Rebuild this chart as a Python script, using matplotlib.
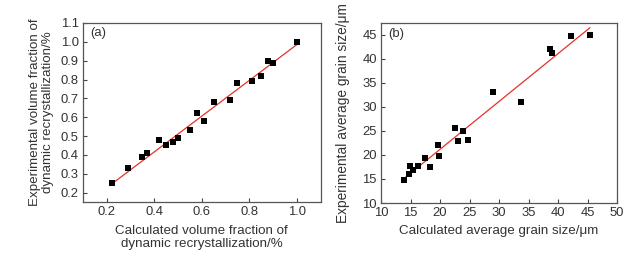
import numpy as np
import matplotlib
matplotlib.use('Agg')
import matplotlib.pyplot as plt

plt.rcParams['font.family'] = ['Liberation Sans', 'DejaVu Sans']

# (a) volume fraction of dynamic recrystallization
calc_frac = [0.22, 0.29, 0.35, 0.37, 0.42, 0.45, 0.48, 0.50, 0.55, 0.58,
             0.61, 0.65, 0.72, 0.75, 0.81, 0.85, 0.88, 0.90, 1.00]
exp_frac = [0.25, 0.33, 0.39, 0.41, 0.48, 0.45, 0.47, 0.49, 0.53, 0.62,
            0.58, 0.68, 0.69, 0.78, 0.79, 0.82, 0.90, 0.89, 1.00]
fit_a_x = [0.22, 1.00]
fit_a_y = [0.245, 0.985]

# (b) average grain size
calc_size = [13.9, 14.7, 14.9, 15.5, 16.3, 17.5, 18.3, 19.6, 19.9, 22.5,
             23.0, 23.9, 24.8, 29.0, 33.7, 38.7, 39.0, 42.2, 45.4]
exp_size = [14.8, 16.0, 17.8, 16.9, 17.8, 19.3, 17.6, 22.0, 19.7, 25.7,
            22.9, 25.0, 23.2, 33.2, 31.1, 42.1, 41.3, 44.8, 45.0]
fit_b_x = [13.9, 45.4]
fit_b_y = [15.1, 46.5]

txt = '#333333'
fs = 9.4

fig = plt.figure(figsize=(6.44, 2.57), dpi=100)
ax1 = fig.add_axes([83/644, 1-202/257, (320.5-83)/644, (202-23)/257])
ax2 = fig.add_axes([381/644, 1-203/257, (617-381)/644, (203-23)/257])

for ax in (ax1, ax2):
    ax.tick_params(direction='in', length=3, width=0.8, colors='#444444',
                   labelcolor=txt, labelsize=fs, top=False, right=False, pad=3)
    for s in ax.spines.values():
        s.set_color('#555555')
        s.set_linewidth(0.9)

ax1.plot(fit_a_x, fit_a_y, color='#e8302a', lw=0.9, zorder=2)
ax1.scatter(calc_frac, exp_frac, marker='s', s=15, color='black', zorder=3, linewidths=0)
ax1.set_xlim(0.1, 1.1)
ax1.set_ylim(0.15, 1.1)
ax1.set_xticks([0.2, 0.4, 0.6, 0.8, 1.0])
ax1.set_yticks(np.round(np.arange(0.2, 1.15, 0.1), 1))
ax1.set_xticklabels(['0.2', '0.4', '0.6', '0.8', '1.0'])
ax1.set_yticklabels(['0.2', '0.3', '0.4', '0.5', '0.6', '0.7', '0.8', '0.9', '1.0', '1.1'])
ax1.set_xlabel('Calculated volume fraction of\ndynamic recrystallization/%',
               fontsize=fs + 0.2, color=txt, linespacing=1.1, labelpad=5)
ax1.set_ylabel('Experimental volume fraction of\ndynamic recrystallization/%',
               fontsize=fs + 0.2, color=txt, linespacing=1.1, labelpad=5)
ax1.text(0.03, 0.975, '(a)', transform=ax1.transAxes, ha='left', va='top',
         fontsize=fs, color=txt)

ax2.plot(fit_b_x, fit_b_y, color='#e8302a', lw=0.9, zorder=2)
ax2.scatter(calc_size, exp_size, marker='s', s=15, color='black', zorder=3, linewidths=0)
ax2.set_xlim(10, 50)
ax2.set_ylim(10, 47.5)
ax2.set_xticks(range(10, 51, 5))
ax2.set_yticks(range(10, 46, 5))
ax2.set_xlabel('Calculated average grain size/μm', fontsize=fs + 0.2, color=txt, labelpad=4)
ax2.set_ylabel('Experimental average grain size/μm', fontsize=fs + 0.5, color=txt, labelpad=9)
ax2.text(0.03, 0.975, '(b)', transform=ax2.transAxes, ha='left', va='top',
         fontsize=fs, color=txt)

fig.savefig('out.png', dpi=100)
